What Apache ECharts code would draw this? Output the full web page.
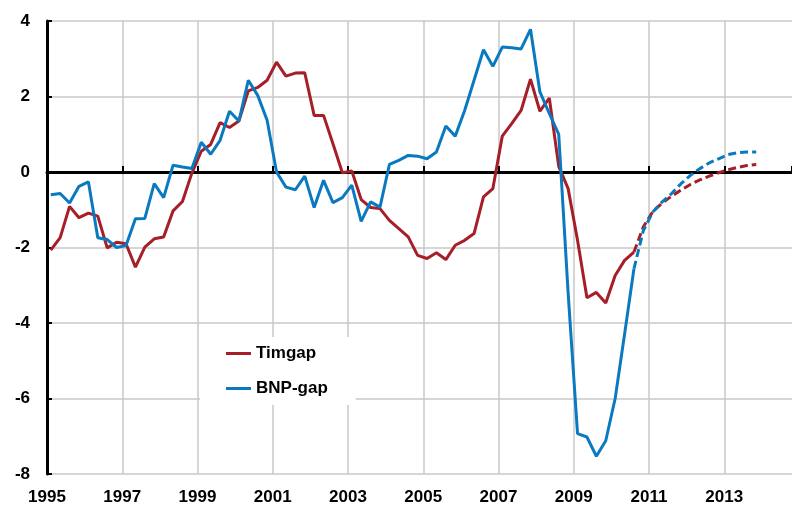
<!DOCTYPE html>
<html>
<head>
<meta charset="utf-8">
<script src="https://cdn.jsdelivr.net/npm/echarts@6/dist/echarts.min.js"></script>
<style>
  html, body { margin: 0; padding: 0; background: #fff; }
  #chart { width: 792px; height: 507px; }
</style>
</head>
<body>
<div id="chart"></div>
<script>
// kvartal 1995K1 - 2013K4, prognos från 2010K3
const firstYear = 1995
const lastYear = 2013
const forecastStart = 62

const timgap = [
  -2.07, -1.74, -0.91, -1.21, -1.09, -1.17, -2.01, -1.86, -1.90, -2.52,
  -1.99, -1.77, -1.72, -1.03, -0.78, -0.03, 0.55, 0.73, 1.31, 1.18,
  1.35, 2.15, 2.24, 2.43, 2.91, 2.54, 2.62, 2.63, 1.50, 1.50,
  0.75, -0.02, 0.03, -0.73, -0.94, -0.97, -1.28, -1.50, -1.72, -2.21,
  -2.29, -2.14, -2.32, -1.94, -1.81, -1.63, -0.66, -0.44, 0.95, 1.28,
  1.63, 2.46, 1.61, 1.96, 0.15, -0.44, -1.81, -3.33, -3.19, -3.47,
  -2.74, -2.34, -2.12, -1.45, -1.05, -0.82, -0.64, -0.48, -0.33, -0.21,
  -0.11, -0.02, 0.06, 0.12, 0.17, 0.20
]

const bnpGap = [
  -0.60, -0.57, -0.82, -0.38, -0.26, -1.74, -1.79, -2.00, -1.95, -1.24,
  -1.23, -0.31, -0.68, 0.18, 0.13, 0.09, 0.79, 0.47, 0.84, 1.61,
  1.35, 2.43, 2.03, 1.37, 0.00, -0.40, -0.47, -0.11, -0.94, -0.22,
  -0.81, -0.68, -0.35, -1.31, -0.79, -0.93, 0.20, 0.31, 0.44, 0.42,
  0.35, 0.53, 1.22, 0.95, 1.63, 2.43, 3.24, 2.80, 3.31, 3.29,
  3.26, 3.78, 2.12, 1.55, 1.00, -3.20, -6.93, -7.02, -7.53, -7.12,
  -6.00, -4.30, -2.56, -1.55, -1.06, -0.79, -0.57, -0.31, -0.09, 0.09,
  0.24, 0.35, 0.46, 0.51, 0.53, 0.53
]

const yTicks = [-8, -6, -4, -2, 0, 2, 4]
const xLabelYears = [1995, 1997, 1999, 2001, 2003, 2005, 2007, 2009, 2011, 2013]

const quarters = []
for (let y = firstYear; y <= lastYear; y++) {
  for (let q = 1; q <= 4; q++) quarters.push({ year: y, q: q })
}
// position på tidsaxeln (mitt i kvartalet ungefär)
const timePos = quarters.map(d => d.year + (d.q - 1) / 4 + 0.1)

const actual = (arr) => arr.map((v, i) => [timePos[i], i <= forecastStart ? v : null])
const forecast = (arr) => arr.map((v, i) => [timePos[i], i >= forecastStart ? v : null])

const RED = '#A51E28'
const BLUE = '#0A7AC0'
const FONT = 'Liberation Sans, Arial, sans-serif'

const chart = echarts.init(document.getElementById('chart'))

const xBase = {
  type: 'value',
  min: firstYear,
  max: 2014.8,
  interval: 2,
}

const option = {
  animation: false,
  grid: { left: 47, right: 0, top: 21, bottom: 33, containLabel: false },
  legend: {
    data: ['Timgap', 'BNP-gap'],
    orient: 'vertical',
    left: 200,
    top: 337,
    padding: [8, 28, 8, 26],
    backgroundColor: '#fff',
    icon: 'rect',
    itemWidth: 25,
    itemHeight: 3,
    itemGap: 18,
    textStyle: { fontSize: 17, fontWeight: 'bold', fontFamily: FONT, color: '#000' },
  },
  xAxis: [
    {
      ...xBase,
      position: 'bottom',
      axisLine: { show: false, onZero: false },
      axisTick: { show: false },
      axisLabel: {
        margin: 15,
        fontSize: 17,
        fontWeight: 'bold',
        fontFamily: FONT,
        color: '#000',
        showMaxLabel: false,
        formatter: v => (xLabelYears.includes(v) ? String(v) : ''),
      },
      splitLine: { show: true, showMinLine: false, showMaxLine: false, lineStyle: { color: '#c8c8c8', width: 1.5 } },
    },
    {
      ...xBase,
      position: 'bottom',
      axisLine: { show: true, onZero: true, lineStyle: { color: '#000', width: 3 } },
      axisTick: { show: true, inside: true, length: 6, lineStyle: { color: '#000', width: 2 } },
      axisLabel: { show: false },
      splitLine: { show: false },
    },
  ],
  yAxis: {
    type: 'value',
    min: yTicks[0],
    max: yTicks[yTicks.length - 1],
    interval: 2,
    axisLine: { show: true, onZero: false, lineStyle: { color: '#000', width: 3 } },
    axisTick: { show: true, inside: true, length: 5, lineStyle: { color: '#000', width: 2 } },
    axisLabel: { margin: 17, fontSize: 17, fontWeight: 'bold', fontFamily: FONT, color: '#000' },
    splitLine: { show: true, lineStyle: { color: '#c8c8c8', width: 1.5 } },
  },
  series: [
    {
      name: 'Timgap',
      type: 'line',
      data: actual(timgap),
      symbol: 'none',
      lineStyle: { color: RED, width: 3 },
      itemStyle: { color: RED },
    },
    {
      name: 'Timgap prognos',
      type: 'line',
      data: forecast(timgap),
      symbol: 'none',
      lineStyle: { color: RED, width: 3, type: [8, 4] },
      itemStyle: { color: RED },
    },
    {
      name: 'BNP-gap',
      type: 'line',
      data: actual(bnpGap),
      symbol: 'none',
      lineStyle: { color: BLUE, width: 3 },
      itemStyle: { color: BLUE },
    },
    {
      name: 'BNP-gap prognos',
      type: 'line',
      data: forecast(bnpGap),
      symbol: 'none',
      lineStyle: { color: BLUE, width: 3, type: [8, 4] },
      itemStyle: { color: BLUE },
    },
  ],
}

chart.setOption(option)
</script>
</body>
</html>
